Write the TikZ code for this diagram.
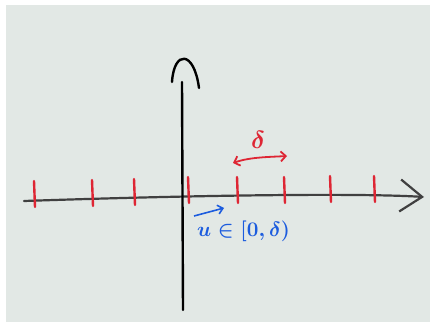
\documentclass[tikz,border=0pt]{standalone}
\usepackage{amsmath,amssymb}
\usepackage{tikz}
\usetikzlibrary{arrows.meta,calc}
\definecolor{board}{RGB}{226,232,229}
\definecolor{marker}{RGB}{222,38,52}
\definecolor{ink}{RGB}{28,92,222}
\tikzset{
  axisline/.style={draw=black!75, line width=2.2pt, line cap=round},
  tick/.style={draw=marker, line width=2.4pt, line cap=round},
  redarrow/.style={draw=marker, line width=1.8pt, {Straight Barb[length=5pt,width=10pt]}-{Straight Barb[length=5pt,width=10pt]}},
  bluearrow/.style={draw=ink, line width=1.6pt, -{Straight Barb[length=5pt,width=9pt]}},
  lbl/.style={inner sep=1pt, font=\fontsize{20}{22}\selectfont\boldmath}
}
\begin{document}
\begin{tikzpicture}[x=1pt,y=-1pt]
\useasboundingbox (0,0) rectangle (431,323);
\fill[white] (0,0) rectangle (431,323);
\fill[board] (6,5) rectangle (430,322);
% axes
\coordinate (xl) at (24,201);
\coordinate (xr) at (424,197);
\coordinate (yb) at (183,310);
\coordinate (yt) at (182,58);
\draw[axisline, -{Straight Barb[length=22pt,width=32pt]}] (xl) .. controls (200,195) and (360,193) .. (xr);
\draw[axisline, line width=2.4pt, draw=black] (yb) -- (182,82);
\draw[axisline, line width=2.4pt, draw=black] (172,82) .. controls (174,50) and (194,50) .. (199,88);
% ticks
\foreach \name/\x/\y in {t1/34/201, t2/92/200, t3/134/199, t4/188/197, t5/237/197, t6/284/197, t7/330/196, t8/374/196}{
  \coordinate (\name) at (\x,\y);
  \draw[tick] ($(\name)+(0,-20)$) -- ($(\name)+(1,6)$);
}
% delta
\coordinate (da) at (233,163);
\coordinate (db) at (287,156);
\draw[redarrow] (da) .. controls (250,157) and (270,157) .. (db);
\node[lbl, text=marker, font=\fontsize{32}{34}\selectfont\boldmath] (dl) at (258,140) {$\delta$};
% u
\node[lbl, text=ink, anchor=west] (ul) at (196,231) {$u\in[0,\delta)$};
\coordinate (ua) at (194,216);
\coordinate (ub) at (224,208);
\draw[bluearrow] (ua) -- (ub);
\end{tikzpicture}
\end{document}
